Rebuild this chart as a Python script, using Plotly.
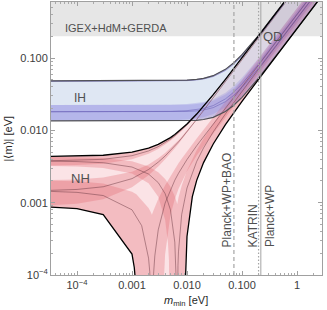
import plotly.graph_objects as go

# ---------------- data ----------------
# Normal hierarchy (NH) grid for smooth curves
nh_m = [3e-5, 1e-4, 3e-4, 1e-3, 2e-3, 3e-3, 4e-3, 5e-3, 6e-3, 7e-3, 8e-3, 1e-2,
        1.5e-2, 2e-2, 3e-2, 5e-2, 7e-2, 0.1, 0.2, 0.5, 1, 3]
nh_a_hi = [0.004352, 0.004396, 0.004524, 0.004981, 0.005668, 0.006392, 0.007151, 0.007940,
           0.008755, 0.009592, 0.010450, 0.012211, 0.016794, 0.021522, 0.031176, 0.050806,
           0.070608, 0.100441, 0.200227, 0.500091, 1.00005, 3.0]
nh_a_lo = [0.003256, 0.003307, 0.003452, 0.003971, 0.004737, 0.005530, 0.006350, 0.007192,
           0.008054, 0.008932, 0.009826, 0.011647, 0.016336, 0.021133, 0.030874, 0.050600,
           0.070453, 0.100328, 0.200169, 0.500068, 1.000034, 3.0]
nh_b_hi = [0.002052, 0.002096, 0.002225, 0.002685, 0.003376, 0.004103, 0.004863, 0.005654,
           0.006470, 0.007307, 0.008164, 0.009921, 0.014479, 0.019162, 0.028673, 0.047854,
           0.067074, 0.095901, 0.191945, 0.479978, 0.9598, 2.88]
nh_b_lo = [0.000918, 0.000969, 0.001113, 0.001628, 0.002387, 0.003172, 0.003982, 0.004814,
           0.005665, 0.006531, 0.007411, 0.009203, 0.013800, 0.018485, 0.027946, 0.046944,
           0.066035, 0.094386, 0.189086, 0.472954, 0.946777, 2.838]
nh_a_bf = [0.003788, 0.003836, 0.003972, 0.004461, 0.005189, 0.005949, 0.006739, 0.007555,
           0.008394, 0.009253, 0.010129, 0.011921, 0.016558, 0.021322, 0.03102, 0.0507,
           0.070529, 0.10038, 0.2002, 0.50008, 1.0001, 3.0]
nh_b_bf = [0.001476, 0.001524, 0.00166, 0.002149, 0.002875, 0.003633, 0.004419, 0.005231,
           0.006065, 0.006918, 0.007787, 0.009563, 0.014142, 0.018828, 0.028316, 0.04741,
           0.066519, 0.09516, 0.19056, 0.47657, 0.9533, 2.86]

# NH band "C" (values reaching zero are given as 1e-6, below the axis)
nh_c_up_m = [3e-5, 1e-4, 3e-4, 1e-3, 1.2e-3, 2e-3, 2.2e-3, 2.3e-3, 2.5e-3, 3e-3, 4e-3, 5e-3,
             6e-3, 7e-3, 8e-3, 1e-2, 1.5e-2, 2e-2, 3e-2, 5e-2, 7e-2, 0.1, 0.2, 0.5, 1, 3]
nh_c_up = [0.002014, 0.00197, 0.001845, 0.001421, 0.001303, 0.000847, 0.000737, 0.000683,
           0.000804, 0.001124, 0.001747, 0.002347, 0.002929, 0.003495, 0.004047, 0.005119,
           0.007683, 0.010159, 0.015020, 0.024666, 0.034319, 0.048834, 0.097354, 0.243146,
           0.486223, 1.4586]
nh_c_lo_m = [3e-5, 1e-4, 3e-4, 1e-3, 1.1e-3, 1.15e-3, 1.2e-3, 1.29e-3, 3.615e-3, 3.75e-3,
             3.9e-3, 4e-3, 5e-3, 6e-3, 7e-3, 8e-3, 1e-2, 1.5e-2, 2e-2, 3e-2, 5e-2, 7e-2,
             0.1, 0.2, 0.5, 1, 3]
nh_c_lo = [0.000875, 0.000826, 0.000684, 0.000195, 0.000127, 0.0000921, 0.0000586, 1e-6,
           1e-6, 0.000068, 0.000143, 0.000194, 0.000668, 0.001116, 0.001542, 0.00195,
           0.002721, 0.004484, 0.006122, 0.009254, 0.015356, 0.021421, 0.030519, 0.060895,
           0.152123, 0.304211, 0.9126]
nh_c_bf_m = [3e-5, 1e-4, 3e-4, 1e-3, 1.5e-3, 2e-3, 2.1e-3, 2.2e-3, 2.289e-3, 2.38e-3,
             2.45e-3, 2.6e-3, 3e-3, 4e-3, 5e-3, 6e-3, 7e-3, 8e-3, 1e-2, 1.5e-2, 2e-2,
             3e-2, 5e-2, 7e-2, 0.1, 0.2, 0.5, 1, 3]
nh_c_bf = [0.001436, 0.001388, 0.001255, 0.000797, 0.000481, 0.000171, 0.000112, 0.0000527,
           1e-6, 0.0000539, 0.0000953, 0.000184, 0.000421, 0.000988, 0.001527, 0.002044,
           0.002543, 0.003025, 0.003953, 0.006132, 0.008204, 0.012232, 0.02017, 0.028093,
           0.04, 0.07976, 0.19923, 0.3984, 1.195]

# NH band "D"
nh_d_up_m = [3e-5, 1e-4, 3e-4, 1e-3, 2e-3, 3e-3, 4e-3, 5e-3, 6e-3, 6.65e-3, 7e-3, 8e-3,
             9e-3, 1e-2, 1.5e-2, 2e-2, 3e-2, 5e-2, 7e-2, 0.1, 0.2, 0.5, 1, 3]
nh_d_up = [0.004314, 0.004271, 0.004147, 0.003726, 0.003158, 0.002627, 0.00213, 0.001664,
           0.001224, 0.00096, 0.001166, 0.001715, 0.002252, 0.002779, 0.005303, 0.00772,
           0.012404, 0.021531, 0.03053, 0.043932, 0.088351, 0.221232, 0.442566, 1.3278]
nh_d_lo_m = [3e-5, 1e-4, 3e-4, 1e-3, 2e-3, 3e-3, 4e-3, 4.5e-3, 4.7e-3, 4.85e-3, 4.965e-3,
             9.07e-3, 9.25e-3, 9.5e-3, 1e-2, 1.25e-2, 1.5e-2, 2e-2, 3e-2, 5e-2, 7e-2,
             0.1, 0.2, 0.5, 1, 3]
nh_d_lo = [0.003213, 0.003163, 0.003019, 0.002528, 0.001852, 0.001203, 0.000579, 0.000279,
           0.000159, 0.000069, 1e-6, 1e-6, 0.000065, 0.000157, 0.000341, 0.001212, 0.002034,
           0.003582, 0.006481, 0.011954, 0.017256, 0.025079, 0.050813, 0.127509, 0.255154,
           0.7656]
nh_d_bf_m = [3e-5, 1e-4, 3e-4, 1e-3, 2e-3, 3e-3, 4e-3, 5e-3, 6e-3, 6.3e-3, 6.45e-3, 6.576e-3,
             6.7e-3, 6.85e-3, 7e-3, 8e-3, 1e-2, 1.5e-2, 2e-2, 3e-2, 5e-2, 7e-2, 0.1, 0.2,
             0.5, 1, 3]
nh_d_bf = [0.00375, 0.0037, 0.003567, 0.003109, 0.002486, 0.001894, 0.001332, 0.000797,
           0.000284, 0.000136, 0.0000622, 1e-6, 0.0000611, 0.000135, 0.000209, 0.000683,
           0.001595, 0.003716, 0.00571, 0.009528, 0.01688, 0.024083, 0.03478, 0.07012,
           0.17572, 0.3516, 1.055]

# NH overall lower boundary (arbitrary phases)
nh_env_lo_m = [3e-5, 1e-4, 3e-4, 1e-3, 1.1e-3, 1.15e-3, 1.2e-3, 1.29e-3, 9.07e-3, 9.25e-3,
               9.5e-3, 1e-2, 1.25e-2, 1.5e-2, 2e-2, 3e-2, 5e-2, 7e-2, 0.1, 0.2, 0.5, 1, 3]
nh_env_lo = [0.000875, 0.000826, 0.000684, 0.000195, 0.000127, 0.0000921, 0.0000586, 1e-6,
             1e-6, 0.000065, 0.000157, 0.000341, 0.001212, 0.002034, 0.003582, 0.006481,
             0.011954, 0.017256, 0.025079, 0.050813, 0.127509, 0.255154, 0.7656]

# Inverted hierarchy (IH)
ih_m = [3e-5, 1e-3, 3e-3, 5e-3, 1e-2, 1.5e-2, 2e-2, 3e-2, 5e-2, 7e-2, 0.1, 0.2, 0.5, 1, 3]
ih_e_hi = [0.048129, 0.048157, 0.048276, 0.048473, 0.049315, 0.050622, 0.052362, 0.057,
           0.069681, 0.085196, 0.111179, 0.205825, 0.502356, 1.00118, 3.0005]
ih_e_lo = [0.047717, 0.047753, 0.047885, 0.048094, 0.048967, 0.050304, 0.052068, 0.056749,
           0.069491, 0.085048, 0.11107, 0.205768, 0.502333, 1.001168, 3.0004]
ih_f_hi = [0.048127, 0.048117, 0.048156, 0.048273, 0.048915, 0.050022, 0.051562, 0.0558,
           0.067681, 0.082396, 0.107179, 0.197825, 0.482356, 0.96118, 2.8805]
ih_f_lo = [0.047715, 0.047699, 0.047723, 0.047824, 0.048427, 0.049494, 0.050988, 0.055129,
           0.066791, 0.081268, 0.10567, 0.194968, 0.475333, 0.947168, 2.8384]
ih_g_hi = [0.022397, 0.022422, 0.022498, 0.022613, 0.023067, 0.023745, 0.024628, 0.026948,
           0.033192, 0.040769, 0.053398, 0.099193, 0.242383, 0.48314, 1.448]
ih_g_lo = [0.01352, 0.01355, 0.013626, 0.013726, 0.014079, 0.01457, 0.015186, 0.016761,
           0.020886, 0.025824, 0.033992, 0.063437, 0.155248, 0.309522, 0.92775]
ih_h_hi = [0.022395, 0.022382, 0.022378, 0.022413, 0.022667, 0.023145, 0.023828, 0.025748,
           0.031192, 0.037969, 0.049398, 0.091193, 0.222383, 0.44314, 1.328]
ih_h_lo = [0.013519, 0.013496, 0.013464, 0.013456, 0.013539, 0.01376, 0.014106, 0.015141,
           0.018186, 0.022044, 0.028592, 0.052637, 0.128248, 0.255522, 0.76575]
ih_e_bf = [0.047927, 0.04796, 0.048084, 0.048287, 0.049143, 0.050465, 0.052217, 0.056876,
           0.069587, 0.085124, 0.111125, 0.205797, 0.502345, 1.001174, 3.0004]
ih_f_bf = [0.047925, 0.047913, 0.047944, 0.048053, 0.048675, 0.049763, 0.051281, 0.055472,
           0.067247, 0.081848, 0.106445, 0.196437, 0.478945, 0.954374, 2.86]
ih_g_bf = [0.018087, 0.018113, 0.01819, 0.018297, 0.018703, 0.019291, 0.020043, 0.022002,
           0.027217, 0.033512, 0.043975, 0.081831, 0.200071, 0.398834, 1.1954]
ih_h_bf = [0.018085, 0.018067, 0.01805, 0.018063, 0.018235, 0.018589, 0.019107, 0.020598,
           0.024877, 0.030236, 0.039295, 0.072471, 0.176671, 0.352034, 1.055]

# Experimental limits
gerda_limit = 0.2            # eV, |<m>| upper limit
planck_bao_mmin = 0.0713     # eV
katrin_mmin = 0.2            # eV
planck_wp_mmin = 0.22        # eV

x_ticks = [1e-4, 1e-3, 1e-2, 1e-1, 1]
x_ticklabels = ["10<sup>−4</sup>", "0.001", "0.010", "0.100", "1"]
y_ticks = [1e-4, 1e-3, 1e-2, 1e-1]
y_ticklabels = ["10<sup>−4</sup>", "0.001", "0.010", "0.100"]

# ---------------- styles ----------------
FONT = "Liberation Sans, Arial, sans-serif"
NH_ENV = "rgba(240,140,150,0.24)"
NH_BAND = "rgba(225,100,110,0.30)"
NH_LINE = "rgba(110,60,70,0.5)"
IH_ENV = "rgba(175,195,225,0.40)"
IH_BAND = "rgba(125,115,220,0.24)"
IH_LINE = "rgba(100,90,180,0.5)"
LIM = "rgb(165,165,165)"
X_FAR = [1e-6, 100]
Y_FAR = [1e-7, 100]

fig = go.Figure()


def poly(xu, yu, xl, yl, color):
    fig.add_trace(go.Scatter(x=list(xu) + list(xl)[::-1], y=list(yu) + list(yl)[::-1],
                             mode="lines", fill="toself", fillcolor=color,
                             line=dict(width=0), hoverinfo="skip", showlegend=False))


def curve(x, y, color, width, dash="solid"):
    fig.add_trace(go.Scatter(x=x, y=y, mode="lines",
                             line=dict(color=color, width=width, dash=dash),
                             hoverinfo="skip", showlegend=False))


# GERDA excluded region
poly(X_FAR, [gerda_limit, gerda_limit], X_FAR, [Y_FAR[1], Y_FAR[1]], "rgb(230,230,230)")

# envelopes
poly(nh_m, nh_a_hi, nh_env_lo_m, nh_env_lo, NH_ENV)
poly(ih_m, ih_e_hi, ih_m, ih_h_lo, IH_ENV)

# NH CP-conserving bands
poly(nh_m, nh_a_hi, nh_m, nh_a_lo, NH_BAND)
poly(nh_m, nh_b_hi, nh_m, nh_b_lo, NH_BAND)
poly(nh_c_up_m, nh_c_up, nh_c_lo_m, nh_c_lo, NH_BAND)
poly(nh_d_up_m, nh_d_up, nh_d_lo_m, nh_d_lo, NH_BAND)

# IH CP-conserving bands
poly(ih_m, ih_e_hi, ih_m, ih_e_lo, IH_BAND)
poly(ih_m, ih_f_hi, ih_m, ih_f_lo, IH_BAND)
poly(ih_m, ih_g_hi, ih_m, ih_g_lo, IH_BAND)
poly(ih_m, ih_h_hi, ih_m, ih_h_lo, IH_BAND)

# best fit lines
curve(nh_m, nh_a_bf, NH_LINE, 1)
curve(nh_m, nh_b_bf, NH_LINE, 1)
curve(nh_c_bf_m, nh_c_bf, NH_LINE, 1)
curve(nh_d_bf_m, nh_d_bf, NH_LINE, 1)
curve(ih_m, ih_e_bf, IH_LINE, 1)
curve(ih_m, ih_f_bf, IH_LINE, 1)
curve(ih_m, ih_g_bf, IH_LINE, 1)
curve(ih_m, ih_h_bf, IH_LINE, 1)

# envelope outlines
curve(ih_m, ih_e_hi, "rgb(80,80,85)", 1.2)
curve(ih_m, ih_h_lo, "rgb(80,80,85)", 1.2)
curve(nh_m, nh_a_hi, "black", 1.3)
curve(nh_env_lo_m, nh_env_lo, "black", 1.3)

# cosmology / KATRIN lines
curve([planck_bao_mmin] * 2, Y_FAR, LIM, 1.2, "4px,3px")
curve([katrin_mmin] * 2, Y_FAR, LIM, 1.2, "1.5px,2px")
curve([planck_wp_mmin] * 2, Y_FAR, LIM, 1.0)

minor_vals = [k * 10.0 ** e for e in range(-5, 1) for k in range(2, 10)]
axis_common = dict(type="log", showgrid=False, zeroline=False, showline=True,
                   linecolor="rgb(160,160,160)", linewidth=1, mirror="ticks",
                   ticks="inside", ticklen=4, tickcolor="rgb(160,160,160)",
                   tickfont=dict(family=FONT, size=11, color="rgb(60,60,60)"))
fig.update_xaxes(**axis_common, range=[-4.4727, 0.4545], tickmode="array",
                 tickvals=x_ticks, ticktext=x_ticklabels,
                 minor=dict(tickmode="array", tickvals=minor_vals, ticks="inside",
                            ticklen=2, tickcolor="rgb(170,170,170)"))
fig.update_yaxes(**axis_common, range=[-4.0, -0.2256], tickmode="array",
                 tickvals=y_ticks, ticktext=y_ticklabels,
                 minor=dict(tickmode="array", tickvals=minor_vals, ticks="inside",
                            ticklen=2, tickcolor="rgb(170,170,170)"))

TXT = "rgb(80,80,80)"
ann = [
    dict(text="IGEX+HdM+GERDA", x=0.240, y=0.905, size=11),
    dict(text="IH", x=0.107, y=0.648, size=12),
    dict(text="NH", x=0.108, y=0.352, size=13),
    dict(text="QD", x=0.819, y=0.875, size=13),
]
for a in ann:
    fig.add_annotation(text=a["text"], x=a["x"], y=a["y"], xref="paper", yref="paper",
                       showarrow=False, xanchor="center", yanchor="middle",
                       font=dict(family=FONT, size=a["size"], color=TXT))
for txt, xp in [("Planck+WP+BAO", 0.649), ("KATRIN", 0.745), ("Planck+WP", 0.808)]:
    fig.add_annotation(text=txt, x=xp, y=0.095, xref="paper", yref="paper",
                       showarrow=False, textangle=-90, xanchor="center", yanchor="bottom",
                       font=dict(family=FONT, size=12, color=TXT))

fig.add_annotation(text="<i>m</i><sub>min</sub> [eV]", x=0.498, y=-0.128, xref="paper",
                   yref="paper", showarrow=False, xanchor="center", yanchor="bottom",
                   font=dict(family=FONT, size=11, color="rgb(40,40,40)"))
fig.add_annotation(text="|⟨m⟩| [eV]", x=-0.159, y=0.50, xref="paper", yref="paper",
                   showarrow=False, textangle=-90, xanchor="center", yanchor="middle",
                   font=dict(family=FONT, size=11, color="rgb(40,40,40)"))

fig.update_layout(width=327, height=310, margin=dict(l=51, r=5, t=2, b=35),
                  paper_bgcolor="white", plot_bgcolor="white", showlegend=False)

fig.write_html("out.html", config={"displayModeBar": False},
               post_script="document.body.style.margin='0px';document.body.style.padding='0px';")
